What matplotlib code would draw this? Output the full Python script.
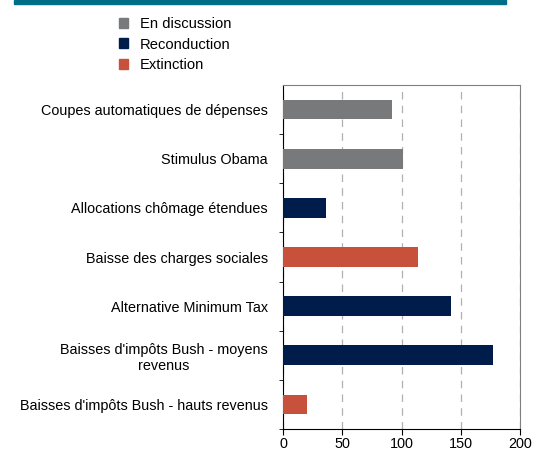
import matplotlib.pyplot as plt
from matplotlib.patches import Patch, Rectangle

plt.rcParams['font.family'] = ['Liberation Sans', 'DejaVu Sans']

labels = ["Coupes automatiques de dépenses", "Stimulus Obama",
          "Allocations chômage étendues", "Baisse des charges sociales",
          "Alternative Minimum Tax", "Baisses d'impôts Bush - moyens\nrevenus",
          "Baisses d'impôts Bush - hauts revenus"]
values = [92, 101, 36, 114, 142, 177, 20]
status = ["En discussion", "En discussion", "Reconduction", "Extinction",
          "Reconduction", "Reconduction", "Extinction"]
colors = {"En discussion": "#77797b", "Reconduction": "#001c4a", "Extinction": "#c8513b"}

fig = plt.figure(figsize=(5.49, 4.55), dpi=100)
ax = fig.add_axes([283 / 549, 1 - 429 / 455, 237 / 549, 344 / 455])

pos = list(range(len(labels)))
ax.barh(pos, values, height=0.4, color=[colors[s] for s in status], zorder=3)
ax.set_ylim(len(labels) - 0.5, -0.5)
ax.set_xlim(0, 200)
ax.set_xticks([0, 50, 100, 150, 200])
ax.set_yticks(pos)
ax.set_yticklabels(labels, fontsize=10.4)
for t in ax.get_yticklabels():
    t.set_multialignment('center')
ax.set_yticks([p + 0.5 for p in pos], minor=True)
ax.tick_params(axis='y', which='major', length=0, pad=11)
ax.tick_params(axis='y', which='minor', length=3, direction='out')
ax.tick_params(axis='x', length=4, labelsize=10.4, pad=2)
ax.grid(axis='x', color='#b0b0b0', linestyle=(0, (6, 5)), linewidth=0.9, zorder=0)
for s in ['top', 'right']:
    ax.spines[s].set_color('#808080')
for s in ['left', 'bottom']:
    ax.spines[s].set_color('black')

handles = [Patch(color=colors[k]) for k in ["En discussion", "Reconduction", "Extinction"]]
fig.legend(handles, ["En discussion", "Reconduction", "Extinction"], loc='upper left',
           bbox_to_anchor=(113 / 549, 1 - 11 / 455), frameon=False, fontsize=10.6,
           handlelength=0.65, handleheight=0.65, handletextpad=0.75, labelspacing=0.45,
           borderaxespad=0)

fig.patches.append(Rectangle((14 / 549, 1 - 4 / 455), 492 / 549, 4 / 455,
                             transform=fig.transFigure, color='#006e87'))

fig.savefig('out.png', dpi=100)
